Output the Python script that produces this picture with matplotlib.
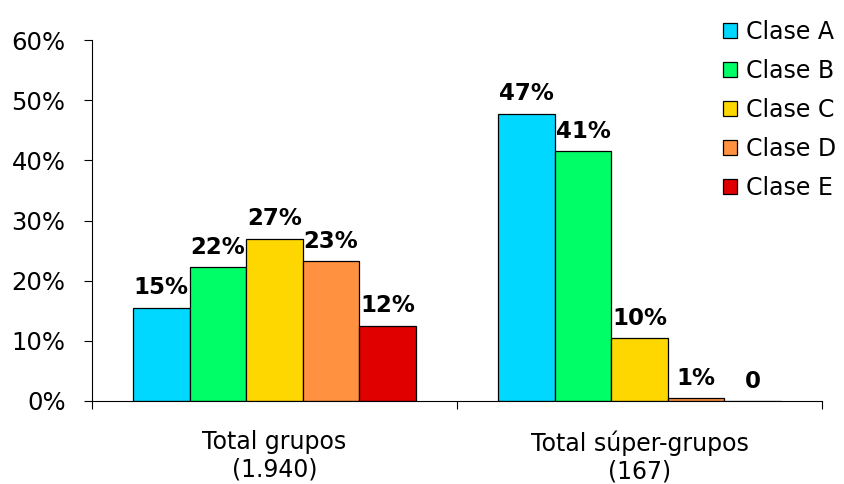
import numpy as np
import matplotlib
matplotlib.use('Agg')
import matplotlib.pyplot as plt

# Data
groups = ['Total grupos\n(1.940)', 'Total súper-grupos\n(167)']
classes = ['Clase A', 'Clase B', 'Clase C', 'Clase D', 'Clase E']
grupos = [15.5, 22.3, 27.0, 23.2, 12.5]
super_grupos = [47.8, 41.5, 10.4, 0.5, 0.0]
labels_grupos = ['15%', '22%', '27%', '23%', '12%']
labels_super = ['47%', '41%', '10%', '1%', '0']
colors = ['#00D8FF', '#00FF66', '#FFD700', '#FF9140', '#E00000']

plt.rcParams['font.family'] = 'DejaVu Sans'

fig = plt.figure(figsize=(8.44, 4.84), dpi=100)
ax = fig.add_axes([0.109, 0.1715, 0.865, 0.7455])

x = np.arange(len(groups))
width = 0.155
values = np.array([grupos, super_grupos])
texts = [labels_grupos, labels_super]

for i, cls in enumerate(classes):
    pos = x + (i - 2) * width
    ax.bar(pos, values[:, i], width, color=colors[i], edgecolor='black',
           linewidth=0.9, label=cls)
    for j in range(len(groups)):
        ax.annotate(texts[j][i], (pos[j], values[j, i]), xytext=(0, 6),
                    textcoords='offset points', ha='center', va='bottom',
                    fontsize=16.5, fontweight='bold')

ax.set_xlim(-0.5, 1.5)
ax.set_ylim(0, 60)
ax.set_yticks(range(0, 61, 10))
ax.set_yticklabels([f'{v}%' for v in range(0, 61, 10)], fontsize=17.5)

# category labels between boundary ticks
ax.set_xticks([-0.5, 0.5, 1.5])
ax.set_xticklabels([])
ax.set_xticks(x, minor=True)
ax.set_xticklabels(groups, minor=True, fontsize=17, linespacing=1.2)
ax.tick_params(axis='x', which='minor', length=0, pad=21)
ax.tick_params(axis='x', which='major', length=6, direction='out')
ax.tick_params(axis='y', length=6, direction='out', pad=13)

for s in ['top', 'right']:
    ax.spines[s].set_visible(False)

fig.legend(loc='upper left', bbox_to_anchor=(0.845, 0.979), frameon=False,
           fontsize=17, handlelength=0.62, handleheight=0.62,
           handletextpad=0.35, labelspacing=0.64, borderaxespad=0)

fig.savefig('out.png', dpi=100)
